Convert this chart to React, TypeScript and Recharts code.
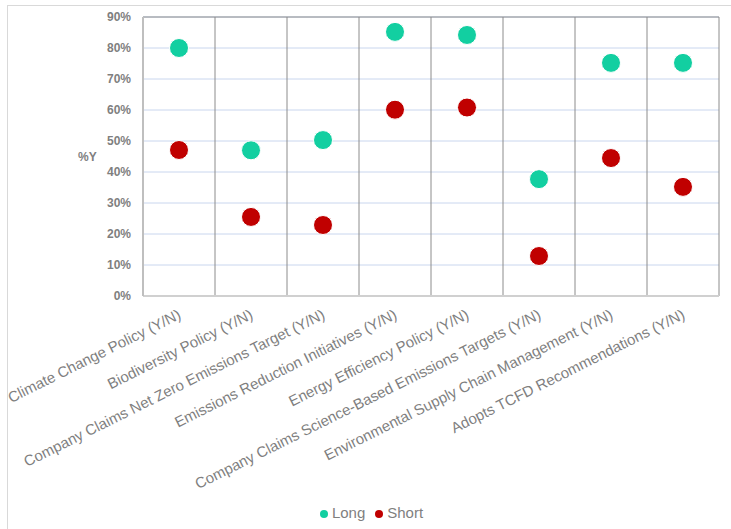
import React from 'react';
import {
  ComposedChart,
  Scatter,
  XAxis,
  YAxis,
  CartesianGrid,
  Legend,
  ReferenceLine,
  Label,
} from 'recharts';

const categories = [
  'Climate Change Policy (Y/N)',
  'Biodiversity Policy (Y/N)',
  'Company Claims Net Zero Emissions Target (Y/N)',
  'Emissions Reduction Initiatives (Y/N)',
  'Energy Efficiency Policy (Y/N)',
  'Company Claims Science-Based Emissions Targets (Y/N)',
  'Environmental Supply Chain Management (Y/N)',
  'Adopts TCFD Recommendations (Y/N)',
];
const longValues = [80, 47, 50.3, 85.2, 84.2, 37.7, 75.2, 75.2];
const shortValues = [47.1, 25.5, 22.9, 60.1, 60.8, 12.9, 44.5, 35.2];
const yTicks = [0, 10, 20, 30, 40, 50, 60, 70, 80, 90];

const data = categories.map((c, i) => ({ category: c, Long: longValues[i], Short: shortValues[i] }));

const FONT = "'Liberation Sans', Arial, sans-serif";
const LONG_COLOR = '#12CFA1';
const SHORT_COLOR = '#C00000';
const TEXT_COLOR = '#7F7F7F';

const CategoryTick = (props: any) => {
  const { x, y, payload } = props;
  return (
    <g transform={`translate(${x + 3},${y + 22})`}>
      <text transform="rotate(-26.5)" textAnchor="end" fill={TEXT_COLOR} fontSize={15} fontFamily={FONT}>
        {payload.value}
      </text>
    </g>
  );
};

const makeDot = (color: string) => (p: any) => (
  <circle cx={p.cx} cy={p.cy} r={9.5} fill={color} stroke="#ffffff" strokeWidth={1} />
);

export default function App() {
  return (
    <div style={{ position: 'absolute', left: 0, top: 0, width: 731, height: 529, background: '#fff', fontFamily: FONT }}>
      <div
        style={{
          position: 'absolute',
          left: 7,
          top: 5,
          width: 740,
          height: 540,
          border: '1px solid #D9D9D9',
          boxSizing: 'border-box',
        }}
      />
      <div style={{ position: 'absolute', left: 0, top: 0 }}>
        <ComposedChart width={731} height={529} data={data} margin={{ top: 17, right: 12, bottom: 0, left: 0 }}>
          <CartesianGrid horizontal={true} vertical={false} stroke="#C9D6EE" />
          <CartesianGrid
            horizontal={false}
            vertical={true}
            stroke="#8C8C8C"
            verticalCoordinatesGenerator={(args: any) => {
              const off = args.offset;
              return [1, 2, 3, 4, 5, 6, 7, 8].map((i) => off.left + (i * off.width) / categories.length);
            }}
          />
          <ReferenceLine y={90} stroke="#8C8C8C" />
          <XAxis
            dataKey="category"
            type="category"
            scale="band"
            interval={0}
            tickLine={false}
            tickSize={0}
            tickMargin={0}
            axisLine={{ stroke: '#D0D0D0', strokeWidth: 2 }}
            height={208}
            tick={<CategoryTick />}
          />
          <YAxis
            width={143}
            domain={[0, 90]}
            ticks={yTicks}
            tickFormatter={(v: number) => `${v}%`}
            tickLine={false}
            tickSize={0}
            tickMargin={12}
            axisLine={{ stroke: '#BFBFBF', strokeWidth: 2 }}
            tick={{ fill: TEXT_COLOR, fontSize: 12, fontWeight: 'bold', fontFamily: FONT }}
          >
            <Label
              value="%Y"
              position="insideLeft"
              offset={78}
              style={{ fill: TEXT_COLOR, fontSize: 12, fontWeight: 'bold', fontFamily: FONT }}
            />
          </YAxis>
          <Legend
            verticalAlign="bottom"
            height={25}
            iconType="circle"
            iconSize={8}
            wrapperStyle={{ left: 18, width: 717, fontSize: 15, fontFamily: FONT }}
            formatter={(v: string) => <span style={{ color: TEXT_COLOR }}>{v}</span>}
          />
          <Scatter name="Long" dataKey="Long" fill={LONG_COLOR} shape={makeDot(LONG_COLOR)} isAnimationActive={false} />
          <Scatter name="Short" dataKey="Short" fill={SHORT_COLOR} shape={makeDot(SHORT_COLOR)} isAnimationActive={false} />
        </ComposedChart>
      </div>
    </div>
  );
}
